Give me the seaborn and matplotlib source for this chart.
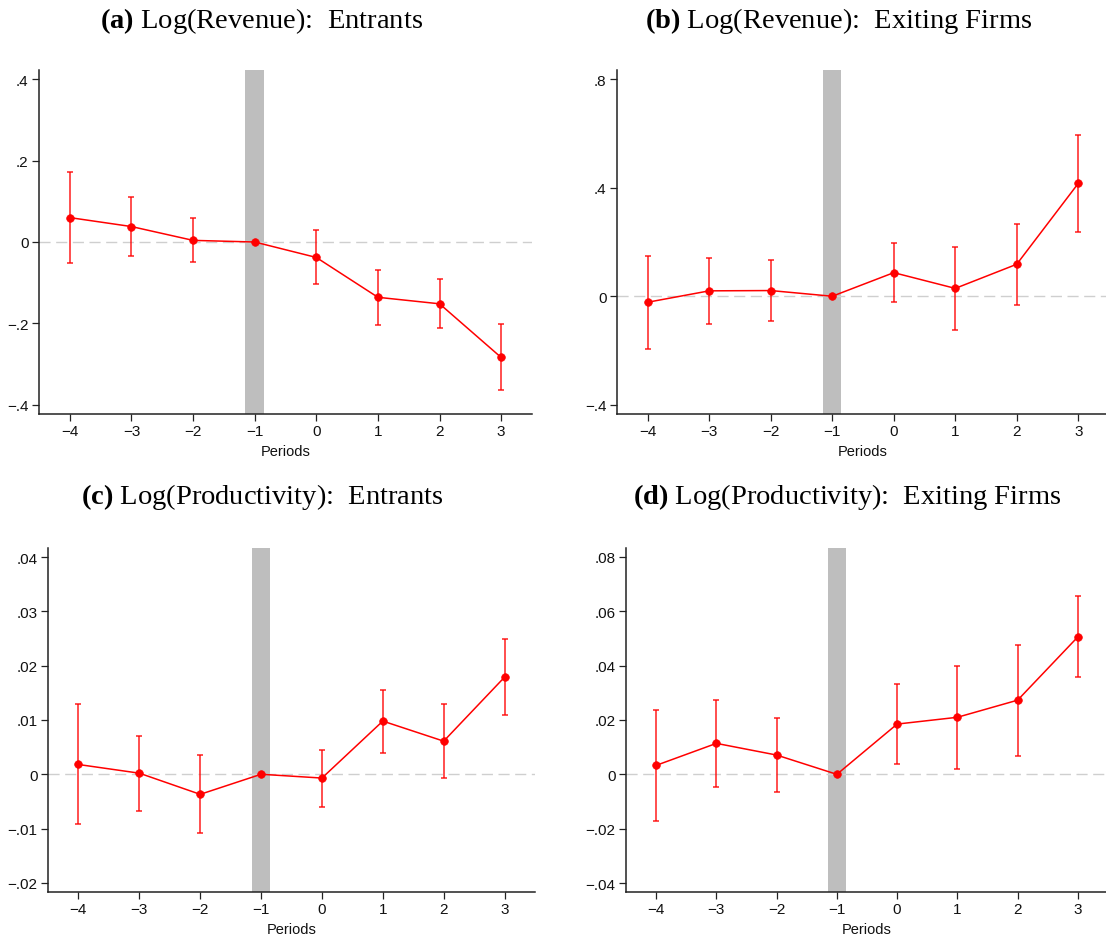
import numpy as np
import matplotlib
matplotlib.use("Agg")
import matplotlib.pyplot as plt
from matplotlib.ticker import FuncFormatter
import seaborn as sns

# Event-time periods
periods = [-4, -3, -2, -1, 0, 1, 2, 3]

# (a) Log(Revenue): Entrants
rev_ent = [0.060, 0.038, 0.004, 0.0, -0.038, -0.136, -0.152, -0.284]
rev_ent_hi = [0.171, 0.110, 0.058, np.nan, 0.029, -0.070, -0.092, -0.202]
rev_ent_lo = [-0.051, -0.035, -0.048, np.nan, -0.103, -0.203, -0.211, -0.365]

# (b) Log(Revenue): Exiting Firms
rev_exit = [-0.022, 0.020, 0.021, 0.0, 0.087, 0.029, 0.118, 0.416]
rev_exit_hi = [0.150, 0.141, 0.132, np.nan, 0.195, 0.183, 0.267, 0.596]
rev_exit_lo = [-0.194, -0.102, -0.090, np.nan, -0.020, -0.125, -0.031, 0.238]

# (c) Log(Productivity): Entrants
prod_ent = [0.0018, 0.0002, -0.0037, 0.0, -0.0007, 0.0098, 0.0061, 0.0179]
prod_ent_hi = [0.0129, 0.0071, 0.0036, np.nan, 0.0045, 0.0156, 0.0129, 0.0250]
prod_ent_lo = [-0.0092, -0.0068, -0.0109, np.nan, -0.0060, 0.0039, -0.0007, 0.0109]

# (d) Log(Productivity): Exiting Firms
prod_exit = [0.0033, 0.0114, 0.0071, 0.0, 0.0185, 0.0210, 0.0273, 0.0506]
prod_exit_hi = [0.0238, 0.0275, 0.0207, np.nan, 0.0333, 0.0399, 0.0476, 0.0655]
prod_exit_lo = [-0.0173, -0.0048, -0.0065, np.nan, 0.0038, 0.0021, 0.0069, 0.0357]

titles = ["(a)", "(b)", "(c)", "(d)"]
subtitles = ["Log(Revenue):  Entrants", "Log(Revenue):  Exiting Firms",
             "Log(Productivity):  Entrants", "Log(Productivity):  Exiting Firms"]
yticks = [[-0.4, -0.2, 0.0, 0.2, 0.4],
          [-0.4, 0.0, 0.4, 0.8],
          [-0.02, -0.01, 0.0, 0.01, 0.02, 0.03, 0.04],
          [-0.04, -0.02, 0.0, 0.02, 0.04, 0.06, 0.08]]
ylims = [(-0.423, 0.423), (-0.434, 0.834), (-0.0217, 0.0417), (-0.0433, 0.0833)]

sns.set_style("white")
plt.rcParams["font.family"] = ["Liberation Sans", "DejaVu Sans"]
plt.rcParams["mathtext.fontset"] = "custom"
plt.rcParams["mathtext.rm"] = "Liberation Serif"
plt.rcParams["mathtext.bf"] = "Liberation Serif:bold"

W, H = 1106, 937
fig = plt.figure(figsize=(W / 100, H / 100), dpi=100)


def add_axes_px(left, top, right, bottom):
    return fig.add_axes([left / W, 1 - bottom / H, (right - left) / W, (bottom - top) / H])


boxes = [(39, 71, 532, 415), (617, 71, 1109, 415),
         (48, 549, 535, 893), (626, 549, 1108, 893)]
title_pos = [(262, 21), (839, 21), (262, 497), (847, 497)]

series = [(rev_ent, rev_ent_lo, rev_ent_hi),
          (rev_exit, rev_exit_lo, rev_exit_hi),
          (prod_ent, prod_ent_lo, prod_ent_hi),
          (prod_exit, prod_exit_lo, prod_exit_hi)]


def stata_fmt(v, pos=None):
    if abs(v) < 1e-12:
        return "0"
    s = f"{v:g}"
    s = s.replace("0.", ".")
    return s.replace("-", "\u2212")


red = "#ff0000"
for i, (ax_box, (coef, lo, hi)) in enumerate(zip(boxes, series)):
    ax = add_axes_px(*ax_box)
    x = np.array(periods, dtype=float)
    coef = np.array(coef)
    lo = np.array(lo)
    hi = np.array(hi)

    # reference period band and zero line
    ax.axvspan(-1.15, -0.85, color="#bebebe", lw=0, zorder=1)
    ax.axhline(0, color="#cfcfcf", lw=1.0, ls=(0, (8, 4)), zorder=1.5)

    m = ~np.isnan(lo)
    ax.errorbar(x[m], coef[m], yerr=[coef[m] - lo[m], hi[m] - coef[m]],
                fmt="none", ecolor=red, elinewidth=1.3, capsize=2.5,
                capthick=1.3, alpha=0.75, zorder=2)
    sns.lineplot(x=x, y=coef, ax=ax, color=red, lw=1.1, marker="o",
                 markersize=5.5, markeredgecolor=red, markeredgewidth=0.5,
                 zorder=3)

    ax.set_xlim(-4.5, 3.5)
    ax.set_ylim(*ylims[i])
    ax.set_xticks(periods)
    ax.set_xticklabels([str(p).replace("-", "\u2212") for p in periods])
    ax.set_yticks(yticks[i])
    ax.yaxis.set_major_formatter(FuncFormatter(stata_fmt))
    ax.set_xlabel("Periods", fontsize=10.5, labelpad=4, color="#111111")
    ax.set_ylabel("")
    for side in ("top", "right"):
        ax.spines[side].set_visible(False)
    for side in ("left", "bottom"):
        ax.spines[side].set_color("#222222")
        ax.spines[side].set_linewidth(1.1)
    ax.tick_params(axis="both", which="major", direction="out", length=5,
                   width=0.9, color="#222222", labelsize=11,
                   labelcolor="#111111", pad=2.5)
    ax.tick_params(left=True, bottom=True)

    tx, ty = title_pos[i]
    fig.text(tx / W, 1 - ty / H, r"$\mathbf{" + titles[i] + r"}$ " + subtitles[i],
             ha="center", va="center", fontsize=20.5, family="Liberation Serif",
             color="black")

fig.savefig("out.png", dpi=100)
